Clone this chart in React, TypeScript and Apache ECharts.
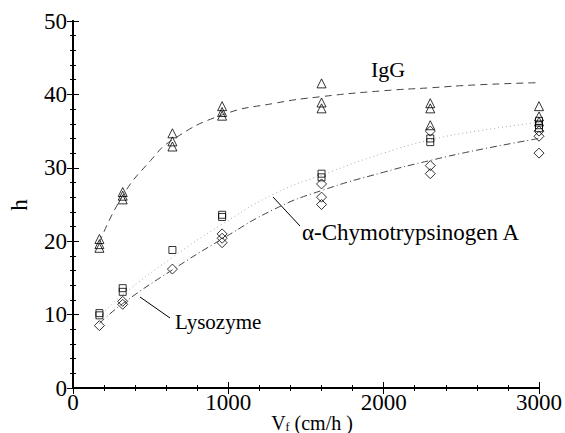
import React, { useEffect, useRef } from "react";
import * as echarts from "echarts";

// Measured points [V (cm/h), h]
const iggPoints: [number, number][] = [
  [170, 20.3], [170, 19.6], [170, 19.1],
  [320, 26.7], [320, 26.2], [320, 25.7],
  [640, 34.7], [640, 33.6], [640, 32.9],
  [960, 38.4], [960, 37.6], [960, 37.1],
  [1600, 41.5], [1600, 38.9], [1600, 38.1],
  [2300, 38.8], [2300, 38.1], [2300, 35.8],
  [3000, 38.4], [3000, 37.0], [3000, 36.3],
];
const chymoPoints: [number, number][] = [
  [170, 10.2], [170, 9.9],
  [320, 13.6], [320, 13.1],
  [640, 18.8],
  [960, 23.6], [960, 23.3],
  [1600, 29.2], [1600, 28.7],
  [2300, 34.0], [2300, 33.5],
  [3000, 36.4], [3000, 35.8], [3000, 35.4],
];
const lysoPoints: [number, number][] = [
  [170, 8.5],
  [320, 11.8], [320, 11.4],
  [640, 16.2],
  [960, 21.0], [960, 20.4], [960, 19.8],
  [1600, 27.8], [1600, 26.0], [1600, 25.0],
  [2300, 35.0], [2300, 30.3], [2300, 29.2],
  [3000, 35.0], [3000, 34.3], [3000, 32.0],
];

// Fitted curves
const iggCurve: [number, number][] = [
  [170, 19.8], [320, 26.2], [500, 31.0], [640, 33.8], [960, 37.2],
  [1300, 38.8], [1600, 39.7], [2000, 40.5], [2300, 40.9], [2600, 41.3], [3000, 41.6],
];
const chymoCurve: [number, number][] = [
  [170, 9.8], [320, 12.7], [640, 17.8], [960, 22.3], [1300, 26.5],
  [1600, 29.0], [2000, 32.0], [2300, 33.8], [2600, 35.0], [3000, 36.2],
];
const lysoCurve: [number, number][] = [
  [170, 8.8], [320, 11.5], [640, 16.1], [960, 20.3], [1300, 24.4],
  [1600, 26.9], [2000, 29.4], [2300, 31.0], [2600, 32.4], [3000, 34.0],
];

const X_NAME = "{v|V}{s|f}{v| (cm/h )}";
const Y_NAME = "h";

const FONT = "Liberation Serif";

export default function App() {
  const ref = useRef<HTMLDivElement>(null);
  useEffect(() => {
    if (!ref.current) return;
    document.body.style.margin = "0";
    const chart = echarts.init(ref.current, undefined, { renderer: "svg" });
    const axisCommon = {
      type: "value" as const,
      axisLine: { show: true, lineStyle: { color: "#000", width: 2 } },
      axisTick: { show: true, inside: true, length: 6, lineStyle: { color: "#000", width: 1 } },
      minorTick: { show: true, splitNumber: 5, length: 3, lineStyle: { color: "#000", width: 1 } },
      splitLine: { show: false },
    };
    const labelStyle = {
      fontSize: 23, fontFamily: FONT, color: "#000",
      formatter: (v: number) => String(v),
    };
    chart.setOption({
      animation: false,
      backgroundColor: "#fff",
      grid: { left: 73, right: 26, top: 21, bottom: 45, outerBoundsMode: "none", containLabel: false },
      xAxis: [
        {
          ...axisCommon,
          min: 0, max: 3000, interval: 1000,
          axisLabel: { ...labelStyle, margin: 3 },
        },
        {
          ...axisCommon,
          position: "top",
          min: 0, max: 3000, interval: 1000,
          axisLabel: { show: false },
          axisLine: { show: true, lineStyle: { color: "#000", width: 1 } },
        },
      ],
      yAxis: [
        {
          ...axisCommon,
          min: 0, max: 50, interval: 10,
          axisLabel: { ...labelStyle, margin: 6 },
        },
        {
          ...axisCommon,
          position: "right",
          min: 0, max: 50, interval: 10,
          axisLabel: { show: false },
          axisLine: { show: true, lineStyle: { color: "#000", width: 2 } },
        },
      ],
      series: [
        {
          type: "line", data: iggCurve, smooth: true, showSymbol: false,
          lineStyle: { color: "#444", width: 1, type: [7, 5] },
        },
        {
          type: "line", data: chymoCurve, smooth: true, showSymbol: false,
          lineStyle: { color: "#aaa", width: 1, type: [1, 3] },
        },
        {
          type: "line", data: lysoCurve, smooth: true, showSymbol: false,
          lineStyle: { color: "#444", width: 1, type: [7, 3, 1, 3] },
        },
        {
          type: "scatter", data: iggPoints, symbol: "triangle", symbolSize: 9,
          itemStyle: { color: "transparent", borderColor: "#000", borderWidth: 1 },
        },
        {
          type: "scatter", data: chymoPoints, symbol: "rect", symbolSize: 7,
          itemStyle: { color: "transparent", borderColor: "#000", borderWidth: 1 },
        },
        {
          type: "scatter", data: lysoPoints, symbol: "diamond", symbolSize: [10, 10],
          itemStyle: { color: "transparent", borderColor: "#000", borderWidth: 1 },
        },
      ],
      graphic: [
        {
          type: "text", x: 312, y: 423,
          style: {
            text: X_NAME,
            textAlign: "center", textVerticalAlign: "middle",
            rich: {
              v: { fontSize: 20, fontFamily: FONT, fill: "#000", color: "#000", lineHeight: 20 },
              s: { fontSize: 12, fontFamily: FONT, fill: "#000", color: "#000", lineHeight: 12, verticalAlign: "bottom" },
            },
          },
        },
        {
          type: "text", x: 19, y: 205, rotation: Math.PI / 2,
          style: { text: Y_NAME, fontSize: 23, fontFamily: FONT, fill: "#000", textAlign: "center", textVerticalAlign: "middle" },
        },
        {
          type: "text", x: 388, y: 69,
          style: { text: "IgG", fontSize: 22, fontFamily: FONT, fill: "#000", textAlign: "center", textVerticalAlign: "middle" },
        },
        {
          type: "text", x: 302, y: 232,
          style: { text: "α-Chymotrypsinogen A", fontSize: 23, fontFamily: FONT, fill: "#000", textAlign: "left", textVerticalAlign: "middle" },
        },
        {
          type: "text", x: 175, y: 322,
          style: { text: "Lysozyme", fontSize: 21, fontFamily: FONT, fill: "#000", textAlign: "left", textVerticalAlign: "middle" },
        },
        { type: "line", shape: { x1: 273, y1: 197, x2: 300, y2: 226 }, style: { stroke: "#000", lineWidth: 1 } },
        { type: "line", shape: { x1: 140, y1: 297, x2: 170, y2: 318 }, style: { stroke: "#000", lineWidth: 1 } },
      ],
    });
    return () => chart.dispose();
  }, []);
  return <div ref={ref} style={{ width: 565, height: 433 }} />;
}
